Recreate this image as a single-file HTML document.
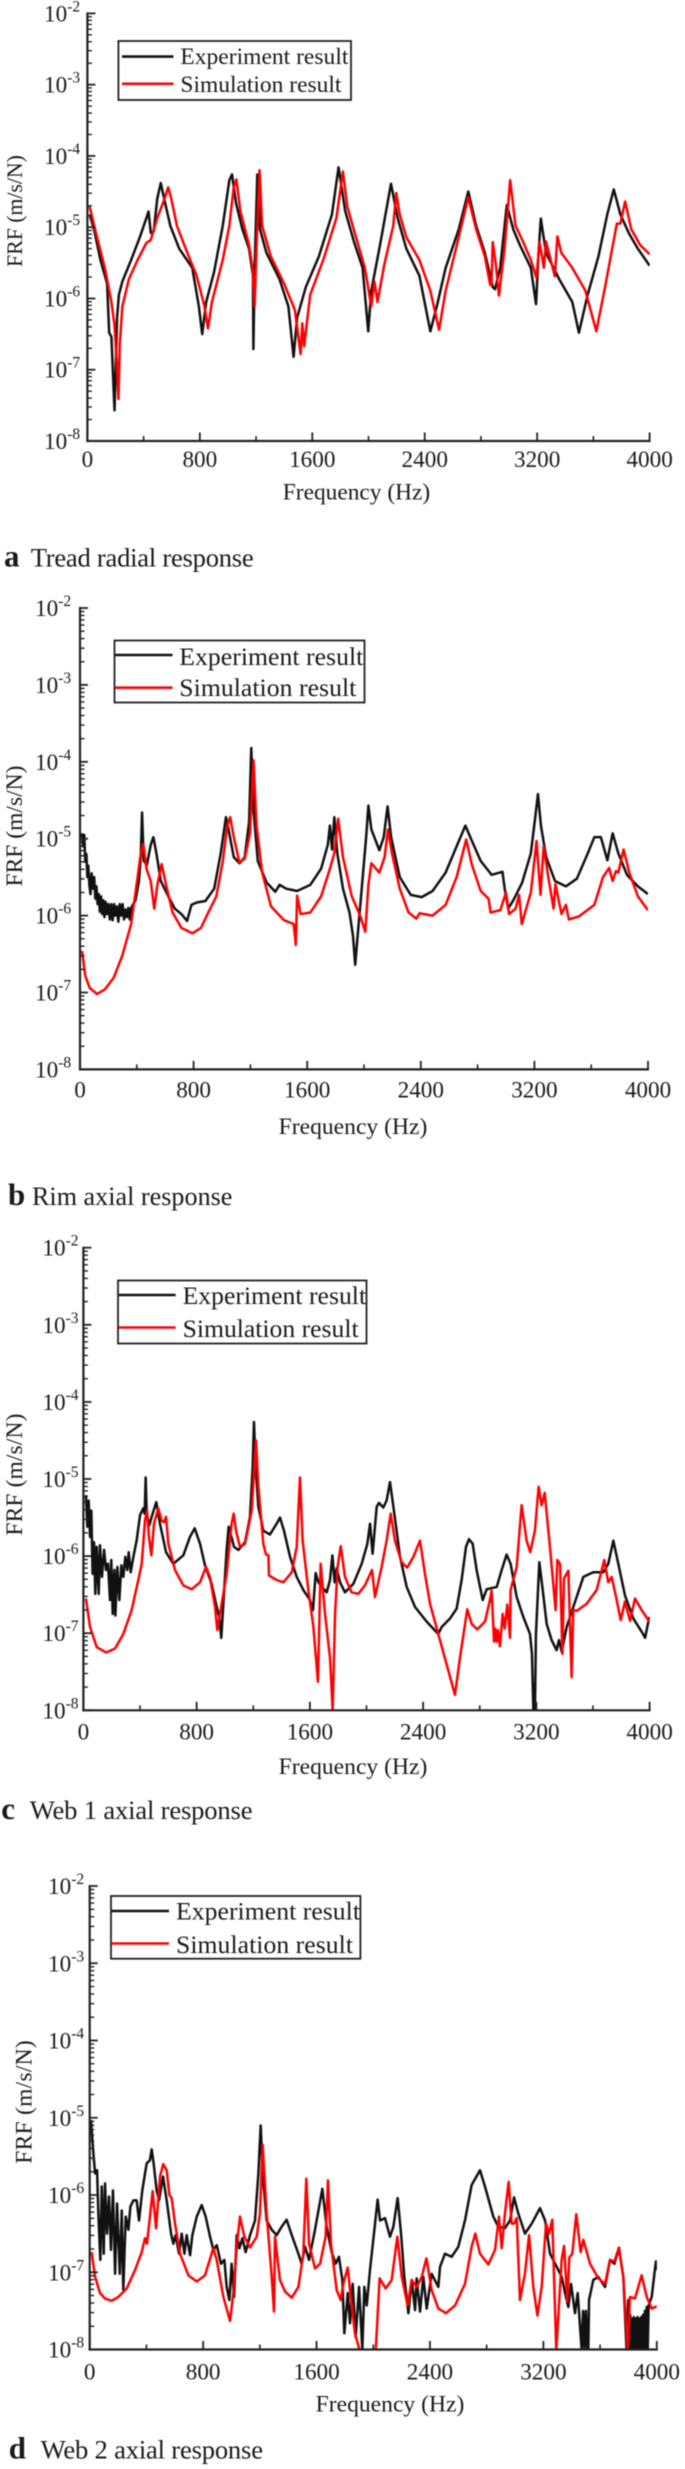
<!DOCTYPE html>
<html lang="en">
<head>
<meta charset="utf-8">
<title>FRF comparison charts</title>
<style>
html,body{margin:0;padding:0;background:#fff;}
body{width:685px;height:2469px;overflow:hidden;}
#figure{display:block;filter:blur(0.45px);font-family:"Liberation Serif",serif;fill:#1a1a1a;}
.legend-box{fill:#fff;stroke:#222;stroke-width:1.8;}
.exp-key{stroke:#111;stroke-width:2.6;fill:none;}
.sim-key{stroke:#f00;stroke-width:2.6;fill:none;}
</style>
</head>
<body>
<svg id="figure" xmlns="http://www.w3.org/2000/svg" width="685" height="2469" viewBox="0 0 685 2469">
  <rect x="0" y="0" width="685" height="2469" fill="#fff"/>
  <defs>
    <clipPath id="clip-a"><rect x="87.4" y="13.4" width="562.4" height="427.6"/></clipPath>
    <clipPath id="clip-b"><rect x="80" y="608" width="568" height="461.4"/></clipPath>
    <clipPath id="clip-c"><rect x="83.4" y="1247.7" width="566.4" height="462.6"/></clipPath>
    <clipPath id="clip-d"><rect x="89.7" y="1886" width="567.2" height="463.6"/></clipPath>
  </defs>

  <g id="panel-a">
    <text transform="translate(22,211) rotate(-90)" text-anchor="middle" font-size="22" textLength="112">FRF (m/s/N)</text>
    <text x="356.5" y="499.4" text-anchor="middle" font-size="23.4">Frequency (Hz)</text>
    <g>
      <rect class="legend-box" x="118.4" y="41" width="232.6" height="59"/>
      <line class="exp-key" x1="122" y1="56.6" x2="173.5" y2="56.6"/>
      <text x="180.4" y="64" font-size="23.5" textLength="168">Experiment result</text>
      <line class="sim-key" x1="122" y1="83.8" x2="173.5" y2="83.8"/>
      <text x="180.4" y="92" font-size="23.5" textLength="161">Simulation result</text>
    </g>
    <g>
      <text x="4" y="566.7" font-size="31" font-weight="bold">a</text>
      <text x="30.7" y="566.7" font-size="26.6" textLength="223">Tread radial response</text>
    </g>
  </g>

  <g id="panel-b">
    <text transform="translate(22,826) rotate(-90)" text-anchor="middle" font-size="23.5" textLength="121">FRF (m/s/N)</text>
    <text x="353" y="1134" text-anchor="middle" font-size="23.6">Frequency (Hz)</text>
    <g>
      <rect class="legend-box" x="114.5" y="640.5" width="250" height="62"/>
      <line class="exp-key" x1="115" y1="655" x2="172.5" y2="655"/>
      <text x="179.3" y="665" font-size="25.7" textLength="184">Experiment result</text>
      <line class="sim-key" x1="115" y1="687.7" x2="172.5" y2="687.7"/>
      <text x="179.3" y="696" font-size="25.7" textLength="177">Simulation result</text>
    </g>
    <g>
      <text x="8" y="1205" font-size="31" font-weight="bold">b</text>
      <text x="32" y="1205" font-size="26.1" textLength="200.4">Rim axial response</text>
    </g>
  </g>

  <g id="panel-c">
    <text transform="translate(22,1474.6) rotate(-90)" text-anchor="middle" font-size="23.5" textLength="122">FRF (m/s/N)</text>
    <text x="353" y="1774" text-anchor="middle" font-size="23.6">Frequency (Hz)</text>
    <g>
      <rect class="legend-box" x="118" y="1280.5" width="248.5" height="63"/>
      <line class="exp-key" x1="119" y1="1295" x2="175.6" y2="1295"/>
      <text x="182.6" y="1303.8" font-size="25.7" textLength="183.5">Experiment result</text>
      <line class="sim-key" x1="119" y1="1327.5" x2="175.6" y2="1327.5"/>
      <text x="182.6" y="1337" font-size="25.7" textLength="176">Simulation result</text>
    </g>
    <g>
      <text x="1.3" y="1819" font-size="31" font-weight="bold">c</text>
      <text x="29.7" y="1819" font-size="26.6" textLength="222.8">Web 1 axial response</text>
    </g>
  </g>

  <g id="panel-d">
    <text transform="translate(31.5,2102) rotate(-90)" text-anchor="middle" font-size="23.5" textLength="123.5">FRF (m/s/N)</text>
    <text x="390" y="2411.6" text-anchor="middle" font-size="23.6">Frequency (Hz)</text>
    <g>
      <rect class="legend-box" x="111" y="1896" width="249.4" height="62.7"/>
      <line class="exp-key" x1="111.4" y1="1911" x2="169" y2="1911"/>
      <text x="176" y="1919.4" font-size="25.7" textLength="184">Experiment result</text>
      <line class="sim-key" x1="111.4" y1="1943.5" x2="169" y2="1943.5"/>
      <text x="176" y="1953" font-size="25.7" textLength="177">Simulation result</text>
    </g>
    <g>
      <text x="8.7" y="2458.5" font-size="31" font-weight="bold">d</text>
      <text x="40.6" y="2458.5" font-size="26.6" textLength="222.4">Web 2 axial response</text>
    </g>
  </g>
</svg>

<script>
// Axis tick values and labels
const xMajorTicks = [0, 800, 1600, 2400, 3200, 4000];
const xMinorTicks = [400, 1200, 2000, 2800, 3600];
const yDecadeExponents = [-2, -3, -4, -5, -6, -7, -8];
const yMinorMultipliers = [2, 3, 4, 5, 6, 7, 8, 9];

// a: Tread radial response. Frequency in Hz, response as log10(FRF).
const treadExpFreq = [16,47,93,140,155,171,193,211,224,249,311,373,420,435,451,472,497,522,553,590,653,746,793,817,845,901,963,1010,1029,1057,1103,1150,1178,1181,1190,1209,1228,1274,1367,1430,1467,1492,1554,1647,1740,1787,1834,1896,1958,1998,2020,2082,2160,2207,2269,2362,2440,2486,2549,2642,2710,2766,2828,2884,2900,2937,2984,3030,3077,3155,3192,3210,3226,3263,3357,3450,3497,3559,3636,3699,3745,3792,3854,3916,4000];
const treadExpLog = [-4.82,-5.03,-5.46,-5.79,-6.48,-6.54,-7.57,-6.27,-5.95,-5.76,-5.46,-5.14,-4.87,-4.78,-5.08,-5.06,-4.60,-4.38,-4.66,-4.98,-5.30,-5.57,-6.11,-6.50,-6.05,-5.63,-4.98,-4.34,-4.26,-4.66,-5.03,-5.30,-5.68,-6.71,-5.57,-4.26,-5.03,-5.36,-5.73,-6.11,-6.82,-6.27,-5.84,-5.41,-4.82,-4.16,-4.77,-5.20,-5.57,-6.46,-5.89,-5.25,-4.39,-4.87,-5.30,-5.68,-6.46,-6.11,-5.57,-5.03,-4.50,-4.98,-5.36,-5.84,-5.87,-5.57,-4.69,-5.03,-5.25,-5.57,-6.08,-5.36,-4.88,-5.36,-5.73,-6.05,-6.48,-5.95,-5.41,-4.82,-4.47,-4.82,-5.09,-5.30,-5.54];
const treadSimFreq = [16,62,124,171,193,211,221,230,249,295,357,420,451,497,544,575,597,637,699,777,833,858,886,963,1010,1041,1060,1088,1150,1175,1190,1203,1225,1243,1305,1399,1476,1517,1529,1542,1585,1678,1772,1818,1849,1911,1974,2020,2042,2064,2113,2176,2197,2222,2269,2362,2440,2502,2549,2642,2710,2766,2828,2866,2875,2884,2906,2928,2968,3008,3046,3099,3155,3195,3217,3248,3263,3326,3344,3372,3450,3543,3621,3683,3767,3792,3826,3870,3933,4000];
const treadSimLog = [-4.71,-5.09,-5.57,-6.05,-6.38,-6.97,-7.41,-6.65,-6.11,-5.73,-5.46,-5.22,-5.18,-4.87,-4.63,-4.44,-4.60,-4.98,-5.30,-5.68,-6.11,-6.42,-6.05,-5.46,-4.98,-4.44,-4.33,-4.77,-5.25,-5.57,-6.11,-5.30,-4.20,-4.98,-5.41,-5.79,-6.16,-6.78,-6.35,-6.67,-5.95,-5.46,-4.87,-4.22,-4.71,-5.14,-5.57,-6.11,-5.76,-6.05,-5.52,-4.98,-4.52,-4.82,-5.14,-5.46,-5.89,-6.44,-5.89,-5.14,-4.58,-5.03,-5.41,-5.81,-5.81,-5.21,-5.52,-5.96,-5.30,-4.34,-4.98,-5.20,-5.46,-5.71,-5.21,-5.57,-5.20,-5.69,-5.13,-5.36,-5.57,-5.89,-6.46,-5.84,-4.95,-4.95,-4.64,-5.03,-5.25,-5.38];

// b: Rim axial response
const rimExpFreq = [15,22,30,37,45,52,58,66,74,82,92,100,108,116,124,132,140,148,156,164,172,180,190,200,210,220,230,240,250,260,270,280,290,300,310,320,330,340,350,360,375,391,415,428,437,449,471,498,517,538,569,622,668,714,754,785,822,883,945,991,1028,1046,1083,1123,1160,1191,1206,1222,1252,1314,1375,1406,1452,1529,1622,1698,1745,1760,1775,1791,1812,1852,1898,1923,1938,1960,1991,2015,2031,2052,2108,2139,2166,2191,2252,2329,2406,2483,2575,2668,2714,2760,2822,2899,2975,2991,3015,3052,3114,3175,3206,3225,3246,3283,3345,3422,3499,3576,3622,3668,3714,3751,3791,3852,3929,4000];
const rimExpLog = [-4.93,-5.1,-4.95,-5.3,-5.2,-5.5,-5.35,-5.6,-5.72,-5.45,-5.65,-5.5,-5.78,-5.62,-5.85,-5.72,-5.95,-5.75,-5.98,-5.8,-6.02,-5.82,-5.98,-5.85,-6.05,-5.85,-6.06,-5.85,-6.0,-5.88,-6.08,-5.85,-6.0,-5.85,-6.05,-5.92,-6.02,-5.9,-6.05,-5.9,-5.85,-5.80,-5.55,-5.24,-4.66,-5.29,-5.34,-5.08,-4.98,-5.19,-5.55,-5.75,-5.91,-5.98,-6.07,-5.86,-5.83,-5.81,-5.65,-5.19,-4.72,-4.88,-5.24,-5.32,-5.24,-4.78,-3.82,-4.62,-5.29,-5.57,-5.69,-5.60,-5.65,-5.68,-5.60,-5.39,-5.08,-4.83,-5.14,-4.72,-5.19,-5.65,-5.96,-6.27,-6.64,-6.16,-5.50,-4.98,-4.57,-4.88,-5.15,-4.98,-4.58,-4.98,-5.50,-5.73,-5.76,-5.68,-5.44,-5.03,-4.83,-5.03,-5.29,-5.47,-5.43,-5.65,-5.91,-5.80,-5.57,-5.19,-4.72,-4.42,-4.83,-5.24,-5.55,-5.62,-5.52,-5.19,-4.98,-4.98,-5.28,-4.93,-5.19,-5.47,-5.62,-5.72];
const rimSimFreq = [15,37,68,120,175,237,298,360,406,428,446,468,498,523,545,575,606,652,714,791,852,898,960,1006,1037,1058,1083,1123,1160,1197,1222,1243,1283,1345,1437,1505,1520,1529,1554,1622,1698,1760,1791,1818,1852,1914,1975,2009,2031,2052,2108,2145,2169,2197,2252,2314,2369,2391,2483,2575,2652,2720,2760,2822,2877,2892,2960,3000,3022,3068,3092,3111,3175,3215,3243,3265,3298,3335,3348,3391,3422,3443,3514,3622,3683,3726,3751,3775,3791,3828,3868,3929,4000];
const rimSimLog = [-6.46,-6.78,-6.94,-7.02,-6.96,-6.81,-6.52,-6.11,-5.50,-5.19,-5.07,-5.39,-5.55,-5.91,-5.60,-5.33,-5.60,-5.96,-6.16,-6.23,-6.16,-5.98,-5.75,-5.29,-4.83,-4.72,-4.98,-5.31,-5.26,-4.93,-3.98,-4.83,-5.44,-5.88,-6.06,-6.11,-6.38,-5.74,-5.98,-5.96,-5.75,-5.39,-5.19,-4.74,-5.24,-5.75,-6.01,-6.21,-5.60,-5.32,-5.44,-5.24,-4.88,-5.19,-5.65,-5.96,-6.04,-5.97,-6.00,-5.86,-5.50,-5.01,-5.34,-5.68,-5.78,-5.96,-5.93,-5.70,-5.98,-5.91,-5.73,-6.11,-5.70,-5.03,-5.73,-5.10,-5.50,-5.91,-5.59,-5.98,-5.86,-6.05,-6.01,-5.86,-5.50,-5.38,-5.55,-5.42,-5.44,-5.14,-5.44,-5.75,-5.93];

// c: Web 1 axial response
const webOneExpFreq = [18,28,37,47,56,65,75,84,94,108,117,131,146,160,174,188,197,207,219,226,240,254,268,282,296,310,320,334,353,376,400,423,433,440,447,466,489,515,541,584,635,706,753,786,824,859,906,942,960,974,993,1012,1026,1040,1064,1095,1142,1177,1196,1205,1217,1236,1271,1318,1365,1389,1417,1460,1507,1554,1601,1622,1641,1660,1695,1719,1742,1759,1775,1789,1813,1848,1907,1966,2006,2025,2043,2072,2088,2119,2142,2166,2190,2237,2284,2343,2425,2507,2531,2590,2637,2672,2703,2724,2750,2778,2821,2849,2920,2955,2990,3018,3061,3108,3155,3169,3179,3190,3197,3221,3245,3273,3308,3343,3360,3379,3414,3461,3532,3602,3673,3708,3744,3779,3826,3885,3944,3968,3998];
const webOneExpLog = [-5.21,-5.62,-5.28,-5.75,-5.41,-6.23,-5.82,-6.49,-5.88,-6.49,-5.86,-6.27,-5.92,-6.18,-6.10,-6.57,-6.05,-6.75,-6.18,-6.77,-6.14,-6.57,-6.12,-6.27,-6.01,-6.18,-5.95,-6.21,-6.01,-5.80,-5.47,-5.38,-5.45,-4.98,-5.45,-5.60,-5.45,-5.30,-5.58,-5.95,-6.10,-5.99,-5.75,-5.64,-5.84,-6.12,-6.36,-6.66,-6.79,-7.06,-6.49,-5.92,-5.62,-5.71,-5.88,-5.92,-5.82,-5.49,-4.84,-4.26,-4.84,-5.36,-5.67,-5.72,-5.58,-5.50,-5.67,-6.01,-6.27,-6.44,-6.57,-6.70,-6.22,-6.34,-6.42,-6.47,-6.31,-5.99,-6.34,-6.16,-6.34,-6.47,-6.36,-6.10,-5.84,-5.58,-5.97,-5.36,-5.31,-5.37,-5.28,-5.04,-5.36,-6.01,-6.40,-6.66,-6.85,-7.01,-6.92,-6.81,-6.68,-6.31,-5.88,-5.78,-5.84,-6.18,-6.57,-6.43,-6.40,-6.18,-5.98,-6.10,-6.53,-6.79,-7.01,-7.27,-8,-8,-7.01,-6.08,-6.44,-6.88,-7.09,-7.22,-7.09,-7.24,-6.92,-6.66,-6.27,-6.21,-6.21,-6.10,-5.80,-6.10,-6.51,-6.81,-6.98,-7.06,-6.79];
const webOneSimFreq = [18,47,94,160,223,282,341,388,412,435,449,463,480,499,529,553,569,584,600,647,706,765,824,866,894,930,946,965,1012,1047,1062,1078,1106,1142,1189,1205,1219,1236,1271,1290,1307,1311,1365,1413,1472,1507,1530,1549,1589,1625,1657,1676,1707,1742,1761,1778,1796,1818,1848,1895,1942,1989,2039,2060,2107,2142,2171,2201,2248,2288,2331,2378,2413,2449,2519,2625,2661,2712,2743,2783,2837,2872,2884,2901,2910,2920,2929,2943,2962,2976,2995,3014,3018,3061,3096,3131,3157,3190,3216,3237,3259,3296,3336,3348,3367,3384,3395,3426,3449,3461,3485,3555,3626,3680,3708,3732,3763,3796,3826,3862,3897,3944,3998];
const webOneSimLog = [-6.55,-6.92,-7.18,-7.25,-7.20,-7.01,-6.70,-6.31,-6.10,-5.54,-5.41,-5.75,-5.99,-5.58,-5.38,-5.54,-5.56,-5.49,-5.84,-6.18,-6.38,-6.43,-6.34,-6.14,-6.27,-6.66,-6.96,-6.75,-6.23,-5.58,-5.45,-5.67,-5.88,-5.84,-5.41,-4.93,-4.50,-5.10,-5.84,-5.98,-5.99,-6.25,-6.31,-6.34,-6.21,-5.88,-4.98,-5.80,-6.44,-6.92,-7.63,-6.10,-6.75,-7.31,-8,-6.75,-6.14,-5.87,-6.27,-6.47,-6.49,-6.38,-6.18,-6.53,-6.14,-5.80,-5.45,-5.80,-6.08,-6.15,-6.01,-5.80,-6.23,-6.62,-7.09,-7.80,-7.31,-6.69,-6.88,-6.95,-6.85,-6.57,-6.45,-7.11,-6.94,-7.11,-6.96,-7.17,-6.75,-6.94,-6.63,-7.06,-6.44,-6.14,-5.34,-5.80,-5.95,-5.67,-5.10,-5.34,-5.18,-5.88,-6.70,-6.05,-6.10,-7.27,-6.29,-6.19,-7.57,-6.70,-6.71,-6.62,-6.44,-6.05,-6.34,-6.27,-6.53,-6.83,-6.59,-6.84,-6.55,-6.70,-6.85];

// d: Web 2 axial response
const webTwoExpFreq = [9,26,38,52,61,75,85,99,108,122,136,150,164,179,193,212,226,237,254,273,287,308,331,348,371,402,425,437,451,472,489,517,543,574,590,606,630,649,668,684,708,724,755,790,818,849,872,896,926,950,966,985,1001,1018,1037,1056,1077,1100,1131,1166,1190,1206,1220,1248,1284,1319,1354,1389,1429,1472,1495,1519,1547,1589,1641,1671,1707,1735,1758,1782,1796,1820,1836,1855,1876,1900,1923,1937,1954,1977,2008,2031,2048,2083,2118,2142,2172,2196,2219,2248,2271,2295,2306,2330,2353,2377,2412,2459,2471,2506,2553,2600,2647,2694,2753,2788,2847,2882,2929,2965,2993,3023,3070,3118,3176,3212,3247,3294,3329,3353,3376,3395,3423,3442,3470,3480,3490,3500,3510,3517,3522,3552,3588,3635,3670,3701,3733,3764,3787,3799,3806,3812,3819,3825,3832,3838,3845,3851,3858,3864,3871,3877,3884,3890,3897,3903,3910,3916,3923,3929,3936,3942,3964,3983,3994,4001];
const webTwoExpLog = [-5.03,-5.46,-5.72,-5.68,-6.24,-6.84,-5.89,-6.76,-5.85,-6.50,-6.02,-6.71,-5.94,-7.02,-6.11,-7.02,-6.20,-7.23,-6.28,-6.45,-6.15,-6.07,-6.07,-6.33,-5.94,-5.59,-5.55,-5.41,-5.59,-5.94,-6.07,-5.76,-6.07,-6.50,-6.63,-6.52,-6.76,-6.50,-6.76,-6.52,-6.78,-6.52,-6.28,-6.13,-6.28,-6.54,-6.71,-6.65,-6.89,-6.84,-7.19,-7.36,-6.89,-7.32,-6.52,-6.69,-6.56,-6.74,-6.52,-6.33,-5.72,-5.10,-5.72,-6.33,-6.45,-6.52,-6.41,-6.32,-6.54,-6.76,-6.89,-6.67,-6.84,-6.45,-5.92,-6.41,-6.74,-6.89,-6.80,-7.10,-7.79,-7.27,-7.66,-7.15,-7.84,-7.19,-8,-7.19,-7.43,-6.97,-6.45,-6.06,-6.33,-6.30,-6.54,-6.41,-6.04,-6.50,-7.06,-7.53,-7.10,-7.49,-7.08,-7.51,-7.06,-7.47,-7.02,-7.19,-6.93,-6.76,-6.80,-6.67,-6.33,-5.87,-5.68,-5.89,-6.28,-6.41,-6.43,-6.33,-6.03,-6.24,-6.50,-6.37,-6.17,-6.33,-6.76,-6.93,-7.06,-7.27,-7.45,-7.15,-7.53,-7.27,-8,-7.5,-8,-7.5,-8,-8,-7.36,-7.10,-7.06,-7.19,-6.84,-6.89,-6.69,-7.06,-8,-7.36,-8,-7.55,-8,-7.6,-8,-7.58,-8,-7.6,-8,-7.58,-8,-7.6,-8,-7.58,-8,-7.55,-8,-7.5,-8,-7.45,-8,-7.43,-7.32,-7.02,-6.86,-6.97];
const webTwoSimFreq = [14,38,73,108,155,202,261,320,367,390,404,425,444,468,496,519,543,562,578,602,637,696,755,813,872,896,943,990,1013,1037,1060,1091,1131,1178,1201,1220,1248,1284,1300,1307,1342,1378,1425,1472,1507,1528,1547,1589,1625,1664,1681,1702,1742,1770,1789,1820,1841,1871,1907,2017,2045,2088,2130,2170,2201,2243,2271,2306,2342,2375,2412,2459,2513,2577,2647,2694,2720,2753,2812,2859,2887,2906,2929,2955,2976,2993,3012,3035,3070,3099,3129,3158,3188,3219,3240,3263,3291,3329,3346,3369,3383,3404,3432,3463,3482,3529,3588,3635,3670,3701,3733,3764,3795,3811,3846,3893,3929,3964,4000];
const webTwoSimLog = [-6.74,-7.06,-7.27,-7.34,-7.37,-7.32,-7.21,-6.97,-6.74,-6.56,-6.63,-6.28,-5.95,-6.43,-5.76,-5.60,-5.68,-6.00,-6.04,-6.37,-6.76,-7.04,-7.12,-7.04,-6.69,-6.84,-7.32,-7.63,-7.27,-6.67,-6.28,-6.54,-6.68,-6.54,-6.24,-5.35,-6.24,-7.06,-7.51,-6.54,-7.10,-7.25,-7.33,-7.19,-6.76,-5.79,-6.63,-6.95,-6.89,-6.54,-5.81,-6.63,-7.23,-7.36,-7.15,-6.94,-7.32,-7.79,-8.03,-8.03,-7.08,-7.21,-7.10,-6.54,-7.06,-7.43,-7.10,-7.19,-7.06,-6.82,-7.23,-7.47,-7.53,-7.43,-7.15,-6.67,-6.50,-6.76,-6.90,-6.71,-6.28,-6.69,-6.24,-5.83,-6.37,-6.37,-6.30,-7.36,-7.02,-6.52,-7.19,-7.56,-7.19,-6.37,-6.50,-6.32,-8.01,-6.84,-6.66,-7.38,-6.81,-6.76,-6.25,-6.74,-6.58,-6.89,-7.08,-7.15,-6.84,-6.86,-6.68,-7.06,-8.01,-7.32,-7.34,-7.04,-7.32,-7.47,-7.44];

const SVG_NS = 'http://www.w3.org/2000/svg';

function makeScaleX(panel) {
  return function (freq) {
    return panel.left + (freq - 0) / 4000 * (panel.right - panel.left);
  };
}
function makeScaleY(panel) {
  return function (logValue) {
    return panel.bottom - (logValue + 8) / 6 * (panel.bottom - panel.top);
  };
}
function tickLine(group, x1, y1, x2, y2, width) {
  const line = document.createElementNS(SVG_NS, 'line');
  line.setAttribute('x1', x1);
  line.setAttribute('y1', y1);
  line.setAttribute('x2', x2);
  line.setAttribute('y2', y2);
  line.setAttribute('stroke', '#222');
  line.setAttribute('stroke-width', width);
  
  
  group.appendChild(line);
}
function drawSeries(group, panel, freqs, logs, colour, seriesName) {
  const sx = makeScaleX(panel);
  const sy = makeScaleY(panel);
  const parts = freqs.map(function (f, i) {
    return (i === 0 ? 'M' : 'L') + sx(f).toFixed(2) + ' ' + sy(logs[i]).toFixed(2);
  });
  const path = document.createElementNS(SVG_NS, 'path');
  path.setAttribute('d', parts.join(''));
  path.setAttribute('fill', 'none');
  path.setAttribute('stroke', colour);
  path.setAttribute('stroke-width', '2.5');
  path.setAttribute('stroke-linejoin', 'round');
  path.setAttribute('clip-path', 'url(#' + panel.clip + ')');
  
  
  group.appendChild(path);
}
function drawAxes(group, panel) {
  const sx = makeScaleX(panel);
  const sy = makeScaleY(panel);

  const yAxis = document.createElementNS(SVG_NS, 'line');
  yAxis.setAttribute('x1', panel.left);
  yAxis.setAttribute('y1', panel.top - 1);
  yAxis.setAttribute('x2', panel.left);
  yAxis.setAttribute('y2', panel.bottom + 1);
  yAxis.setAttribute('stroke', '#222');
  yAxis.setAttribute('stroke-width', '2.2');
  
  
  group.appendChild(yAxis);

  const xAxis = document.createElementNS(SVG_NS, 'line');
  xAxis.setAttribute('x1', panel.left - 1);
  xAxis.setAttribute('y1', panel.bottom);
  xAxis.setAttribute('x2', panel.right + 1);
  xAxis.setAttribute('y2', panel.bottom);
  xAxis.setAttribute('stroke', '#222');
  xAxis.setAttribute('stroke-width', '2.2');
  
  
  group.appendChild(xAxis);

  xMajorTicks.forEach(function (f) {
    tickLine(group, sx(f), panel.bottom, sx(f), panel.bottom - 8.5, 1.8);
    const label = document.createElementNS(SVG_NS, 'text');
    label.setAttribute('x', sx(f));
    label.setAttribute('y', panel.bottom + panel.xLabelDrop);
    label.setAttribute('text-anchor', 'middle');
    label.setAttribute('font-size', '23.2');
    
    
    label.textContent = String(f);
    group.appendChild(label);
  });
  xMinorTicks.forEach(function (f) {
    tickLine(group, sx(f), panel.bottom, sx(f), panel.bottom - 5, 1.6);
  });

  yDecadeExponents.forEach(function (e) {
    tickLine(group, panel.left, sy(e), panel.left + 8, sy(e), 1.8);
    const label = document.createElementNS(SVG_NS, 'text');
    label.setAttribute('x', panel.yLabelX);
    label.setAttribute('y', sy(e) + 8);
    label.setAttribute('font-size', '23.2');
    
    
    label.textContent = '10';
    const sup = document.createElementNS(SVG_NS, 'tspan');
    sup.setAttribute('font-size', '15.5');
    sup.setAttribute('dy', '-10');
    sup.textContent = String(e);
    label.appendChild(sup);
    group.appendChild(label);
  });
  yDecadeExponents.slice(1).forEach(function (e) {
    yMinorMultipliers.forEach(function (m) {
      const y = sy(e + Math.log10(m));
      tickLine(group, panel.left, y, panel.left + 4.5, y, 1.4);
    });
  });
}

const panels = [
  { id: 'panel-a', clip: 'clip-a', left: 87.4, right: 649.6, top: 13.4, bottom: 441, xLabelDrop: 26, yLabelX: 44 },
  { id: 'panel-b', clip: 'clip-b', left: 80, right: 648, top: 608, bottom: 1069.4, xLabelDrop: 28, yLabelX: 35 },
  { id: 'panel-c', clip: 'clip-c', left: 83.4, right: 649.6, top: 1247.7, bottom: 1710.3, xLabelDrop: 29, yLabelX: 42.4 },
  { id: 'panel-d', clip: 'clip-d', left: 89.7, right: 656.8, top: 1886, bottom: 2349.5, xLabelDrop: 30, yLabelX: 48 }
];
const seriesByPanel = [
  [treadExpFreq, treadExpLog, treadSimFreq, treadSimLog],
  [rimExpFreq, rimExpLog, rimSimFreq, rimSimLog],
  [webOneExpFreq, webOneExpLog, webOneSimFreq, webOneSimLog],
  [webTwoExpFreq, webTwoExpLog, webTwoSimFreq, webTwoSimLog]
];

panels.forEach(function (panel, i) {
  const group = document.getElementById(panel.id);
  const s = seriesByPanel[i];
  drawSeries(group, panel, s[0], s[1], '#111', 'experiment-result-line');
  drawSeries(group, panel, s[2], s[3], '#f00', 'simulation-result-line');
  drawAxes(group, panel);
});
</script>
</body>
</html>
